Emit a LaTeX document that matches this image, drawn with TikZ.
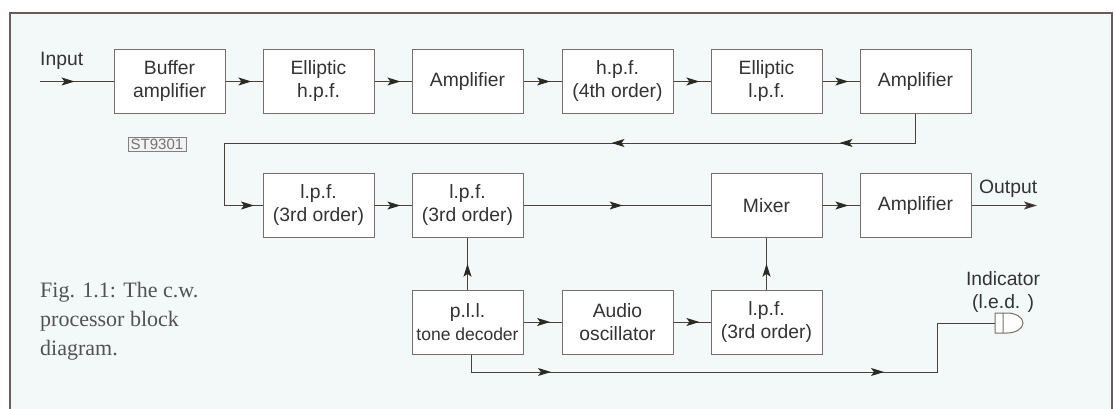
\documentclass[tikz,border=0pt]{standalone}
\usepackage{fontspec}
\setmainfont{Liberation Sans}
\newfontfamily\capfont{Liberation Serif}
\usetikzlibrary{arrows.meta,decorations.markings}
\definecolor{paper}{HTML}{F3F9F8}
\definecolor{frame}{HTML}{6A5C58}
\definecolor{boxline}{HTML}{7A6E6A}
\definecolor{wire}{HTML}{4A403C}
\definecolor{ink}{HTML}{333333}
\definecolor{tip}{HTML}{2B2A22}

\begin{document}
\begin{tikzpicture}[x=1pt,y=-1pt,
  blk/.style={draw=boxline, fill=white, line width=1pt, minimum width=111pt,
              minimum height=64pt, align=center, text=ink, inner sep=0pt,
              font=\fontsize{19.3}{23}\selectfont},
  lbl/.style={text=ink, align=center, inner sep=0pt,
              font=\fontsize{19.3}{23}\selectfont},
  wire/.style={draw=wire, line width=1pt},
  sig/.style={wire, postaction={decorate, decoration={markings,
              mark=at position #1 with {\arrow[tip]{Stealth[length=13pt,width=8pt,inset=3pt]}}}}},
  sig/.default=0.7]
  \useasboundingbox (0,0) rectangle (1115,409);
  \fill[white] (0,0) rectangle (1115,409);
  \filldraw[fill=paper, draw=frame, line width=1.3pt] (10,420) -- (10,13) -- (1112,13) -- (1112,420);
  % first row
  \node[blk] (buf)  at (169.5,81.5) {Buffer\\amplifier};
  \node[blk] (ehpf) at (318.5,81.5) {Elliptic\\h.p.f.};
  \node[blk] (amp1) at (467.5,81.5) {Amplifier};
  \node[blk] (hpf)  at (617.5,81.5) {h.p.f.\\(4th order)};
  \node[blk] (elpf) at (766.5,81.5) {Elliptic\\l.p.f.};
  \node[blk] (amp2) at (915.5,81.5) {Amplifier};
  % second row
  \node[blk] (lpf1) at (318.5,205.5) {l.p.f.\\(3rd order)};
  \node[blk] (lpf2) at (467.5,205.5) {l.p.f.\\(3rd order)};
  \node[blk] (mix)  at (766.5,205.5) {Mixer};
  \node[blk] (amp3) at (915.5,205.5) {Amplifier};
  % third row
  \node[blk] (pll)  at (467.5,322) {p.l.l.\\{\fontsize{17.5}{23}\selectfont tone decoder}};
  \node[blk] (osc)  at (617.5,322) {Audio\\oscillator};
  \node[blk] (lpf3) at (766.5,322) {l.p.f.\\(3rd order)};
  % labels
  \node[lbl, anchor=west] (in)  at (40,61) {Input};
  \node[lbl, anchor=west] (out) at (979,189) {Output};
  \node[lbl] (ind) at (1003,292) {Indicator\\(l.e.d. )};
  \node[draw=gray, fill=gray!10, text=gray!90!black, inner xsep=2.5pt, inner ysep=1.5pt,
        font=\fontsize{15}{15}\selectfont] (code) at (157,144) {ST9301};
  \node[text=ink!85, align=left, anchor=north west, inner sep=0pt,
        font=\capfont\fontsize{22}{29}\selectfont] (cap) at (40,282)
    {Fig. 1.1: The c.w.\\processor block\\diagram.};
  \coordinate (src) at (40,81.5);
  \coordinate (dst) at (1037,205.5);
  \coordinate (fbl) at (224,143);
  \coordinate (bend) at (937,372);
  \coordinate (led) at (995,323);
  % LED
  \filldraw[fill=white!90!paper, draw=boxline, line width=1pt]
    (995,313) rectangle (1003,333)
    (1003,313) -- (1007,313) arc[start angle=-90, end angle=90, x radius=16, y radius=10] -- (1003,333);
  % connections
  \draw[sig=0.47] (src) -- (buf);
  \draw[sig] (buf) -- (ehpf);
  \draw[sig] (ehpf) -- (amp1);
  \draw[sig] (amp1) -- (hpf);
  \draw[sig] (hpf) -- (elpf);
  \draw[sig] (elpf) -- (amp2);
  \draw[wire, postaction={decorate, decoration={markings,
      mark=at position 105pt with {\arrow[tip]{Stealth[length=13pt,width=8pt,inset=3pt]}},
      mark=at position 333pt with {\arrow[tip]{Stealth[length=13pt,width=8pt,inset=3pt]}},
      mark=at position 813pt with {\arrow[tip]{Stealth[length=13pt,width=8pt,inset=3pt]}}}}]
    (amp2.south) |- (fbl) |- (lpf1.west);
  \draw[sig] (lpf1) -- (lpf2);
  \draw[sig=0.53] (lpf2) -- (mix);
  \draw[sig] (mix) -- (amp3);
  \draw[wire, -{Stealth[length=13pt,width=8pt,inset=3pt,fill=tip]}] (amp3) -- (dst);
  \draw[sig=0.5] (pll) -- (lpf2);
  \draw[sig] (pll) -- (osc);
  \draw[sig] (osc) -- (lpf3);
  \draw[sig=0.5] (lpf3) -- (mix);
  \draw[wire, postaction={decorate, decoration={markings,
      mark=at position 97pt with {\arrow[tip]{Stealth[length=13pt,width=8pt,inset=3pt]}},
      mark=at position 430pt with {\arrow[tip]{Stealth[length=13pt,width=8pt,inset=3pt]}}}}]
    ([xshift=4pt]pll.south) |- (bend) |- (led);
\end{tikzpicture}
\end{document}
